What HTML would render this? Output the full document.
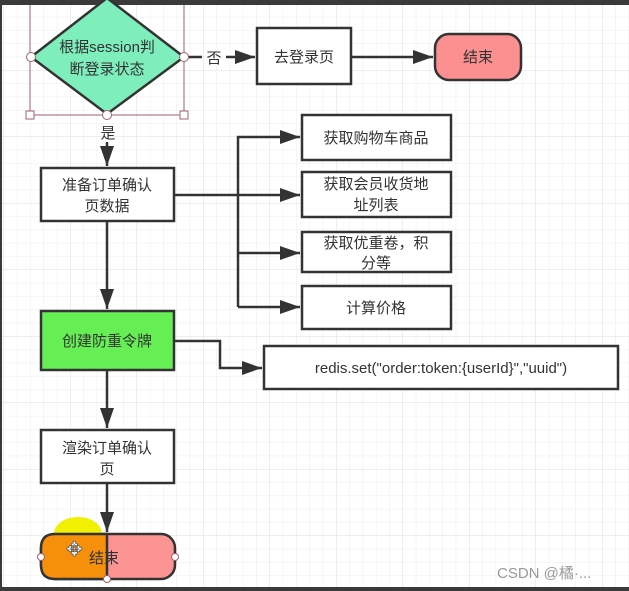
<!DOCTYPE html>
<html><head><meta charset="utf-8"><style>
html,body{margin:0;padding:0;width:629px;height:591px;overflow:hidden;background:#fff}
text{font-family:"Liberation Sans","Noto Sans CJK SC",sans-serif;font-size:15px;fill:#333}
</style></head><body>
<svg width="629" height="591" viewBox="0 0 629 591" xmlns="http://www.w3.org/2000/svg">
<defs>
<pattern id="g" width="13.3" height="13.3" patternUnits="userSpaceOnUse" x="4" y="4">
<path d="M13.3 0V13.3H0" fill="none" stroke="#ececec" stroke-width="1"/>
</pattern>
<pattern id="G" width="66.5" height="66.5" patternUnits="userSpaceOnUse" x="4" y="4">
<path d="M66.5 0V66.5H0" fill="none" stroke="#dcdcdc" stroke-width="1"/>
</pattern>
<marker id="b" markerWidth="22" markerHeight="14" refX="20" refY="7" orient="auto" markerUnits="userSpaceOnUse">
<path d="M0 0L20 7L0 14Z" fill="#333"/>
</marker>
</defs>
<rect width="629" height="591" fill="url(#g)"/>
<rect width="629" height="591" fill="url(#G)"/>
<rect x="0" y="0" width="629" height="5" fill="#3a3a3a"/>
<rect x="0" y="587" width="629" height="4" fill="#3a3a3a"/>
<rect x="0" y="0" width="2" height="591" fill="#3a3a3a"/>
<g stroke="#333" stroke-width="2.5" fill="none">
<polygon points="107,-2 184,57 107,114 31,57" fill="#7eeebc"/>
<line x1="184" y1="57" x2="202" y2="57"/>
<line x1="226" y1="57" x2="255" y2="57" marker-end="url(#b)"/>
<rect x="257" y="28" width="94" height="56" fill="#fff"/>
<line x1="351" y1="57" x2="433" y2="57" marker-end="url(#b)"/>
<rect x="435" y="34" width="86" height="46" rx="14" fill="#fc8f8f"/>
<line x1="107" y1="142" x2="107" y2="166" marker-end="url(#b)"/>
<rect x="41" y="168" width="133" height="53" fill="#fff"/>
<polyline points="238,307 238,137 300,137" marker-end="url(#b)"/>
<line x1="174" y1="195" x2="300" y2="195" marker-end="url(#b)"/>
<line x1="238" y1="253" x2="300" y2="253" marker-end="url(#b)"/>
<line x1="238" y1="307" x2="300" y2="307" marker-end="url(#b)"/>
<rect x="302" y="115" width="149" height="45" fill="#fff"/>
<rect x="302" y="172" width="149" height="45" fill="#fff"/>
<rect x="302" y="232" width="149" height="40" fill="#fff"/>
<rect x="302" y="286" width="149" height="43" fill="#fff"/>
<line x1="107" y1="221" x2="107" y2="309" marker-end="url(#b)"/>
<rect x="41" y="311" width="133" height="59" fill="#66ee55"/>
<polyline points="174,341 220,341 220,368 262,368" marker-end="url(#b)"/>
<rect x="264" y="346" width="354" height="43" fill="#fff"/>
<line x1="107" y1="370" x2="107" y2="428" marker-end="url(#b)"/>
<rect x="41" y="430" width="133" height="53" fill="#fff"/>
<line x1="107" y1="483" x2="107" y2="532" marker-end="url(#b)"/>
<rect x="41" y="534" width="134" height="45" rx="14" fill="#fc9494"/>
</g>
<path d="M54 534A24 17 0 0 1 102 534Z" fill="#f0f000"/>
<path d="M55 534H107V579H55Q41 579 41 565V548Q41 534 55 534Z" fill="#f6900a" stroke="#333" stroke-width="2.5"/>
<g stroke="#a06070" stroke-width="1" fill="#fff">
<line x1="30" y1="5" x2="30" y2="115"/><line x1="184" y1="5" x2="184" y2="115"/>
<line x1="30" y1="115" x2="184" y2="115"/>
<rect x="26" y="111" width="8" height="8"/><rect x="180" y="111" width="8" height="8"/>
<circle cx="31" cy="57" r="4.5"/><circle cx="184" cy="57" r="4.5"/><circle cx="107" cy="115" r="4.5"/>
<circle cx="41" cy="557" r="3.5"/><circle cx="175" cy="557" r="3.5"/><circle cx="107" cy="579" r="3.5"/>
</g>
<text x="107" y="52" text-anchor="middle">根据session判</text>
<text x="107" y="74" text-anchor="middle">断登录状态</text>
<text x="214" y="63" text-anchor="middle">否</text>
<text x="304" y="62" text-anchor="middle">去登录页</text>
<text x="478" y="62" text-anchor="middle">结束</text>
<text x="108" y="138" text-anchor="middle">是</text>
<text x="107" y="190" text-anchor="middle">准备订单确认</text>
<text x="107" y="211" text-anchor="middle">页数据</text>
<text x="376" y="143" text-anchor="middle">获取购物车商品</text>
<text x="376" y="189" text-anchor="middle">获取会员收货地</text>
<text x="376" y="210" text-anchor="middle">址列表</text>
<text x="376" y="248" text-anchor="middle">获取优重卷，积</text>
<text x="376" y="268" text-anchor="middle">分等</text>
<text x="376" y="313" text-anchor="middle">计算价格</text>
<text x="107" y="346" text-anchor="middle">创建防重令牌</text>
<text x="441" y="373" text-anchor="middle">redis.set("order:token:{userId}","uuid")</text>
<text x="107" y="453" text-anchor="middle">渲染订单确认</text>
<text x="107" y="474" text-anchor="middle">页</text>
<text x="104" y="563" text-anchor="middle">结束</text>
<text x="66" y="556" style="font-size:20px;fill:#fff;stroke:#555;stroke-width:0.8">✥</text>
<text x="497" y="578" style="font-size:15px;fill:#999">CSDN @橘·...</text>
</svg>
</body></html>
